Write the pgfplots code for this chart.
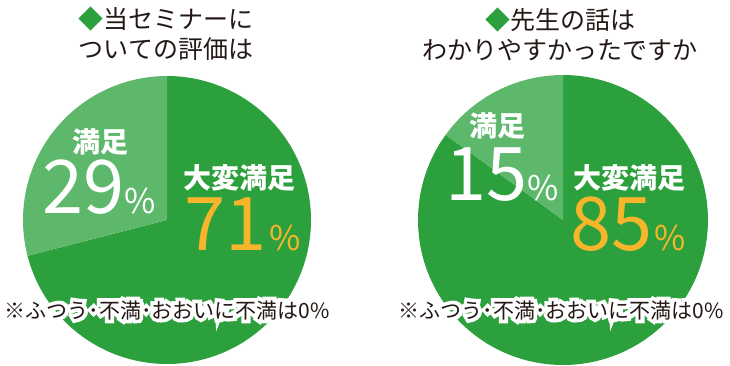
\documentclass[border=0pt]{standalone}
\usepackage{pgfplots}
\pgfplotsset{compat=1.18}
\usepackage{pgfplotstable}
\usepackage{fontspec}
\setmainfont{Noto Sans CJK JP}
\newfontfamily\halofont{Noto Sans CJK JP}[FakeBold=35]
\definecolor{dg}{HTML}{2CA03C}
\definecolor{lg}{HTML}{5DB86B}
\definecolor{og}{HTML}{F7B52C}
\definecolor{tx}{HTML}{231815}
\pgfplotstableread{
label value
top 71
sat 29
}\pieA
\pgfplotstableread{
label value
top 85
sat 15
}\pieB
\pgfplotstablegetelem{1}{value}\of\pieA
\pgfmathsetmacro{\aA}{90+3.6*\pgfplotsretval}
\pgfplotstablegetelem{1}{value}\of\pieB
\pgfmathsetmacro{\aB}{90+3.6*\pgfplotsretval}
\newcommand{\fn}{\fontsize{21}{24}\selectfont}
\newcommand{\notetext}{※ふつう･不満･おおいに不満は0\%}
\newcommand{\halotext}[1]{\rlap{\color{white}\halofont\fn #1}#1}
\newcommand{\bignum}{\fontsize{74}{74}\selectfont}
\newcommand{\pc}{\fontsize{34}{34}\selectfont\%}
\begin{document}
\begin{tikzpicture}
\begin{axis}[name=ax,width=730pt,height=365pt,scale only axis,
  xmin=0,xmax=730,ymin=0,ymax=365,y dir=reverse,hide axis,clip=false]
\addplot[draw=none,fill=dg,domain=\aA:450,samples=150] ({167+144*cos(x)},{220-144*sin(x)}) -- (axis cs:167,220) -- cycle;
\addplot[draw=none,fill=lg,domain=90:\aA,samples=80] ({167+144*cos(x)},{220-144*sin(x)}) -- (axis cs:167,220) -- cycle;
\addplot[draw=none,fill=dg,domain=\aB:450,samples=150] ({563+145*cos(x)},{220-145*sin(x)}) -- (axis cs:563,220) -- cycle;
\addplot[draw=none,fill=lg,domain=90:\aB,samples=60] ({563+145*cos(x)},{220-145*sin(x)}) -- (axis cs:563,220) -- cycle;
% titles
\node[align=center,text=tx,font=\fontsize{25}{30}\selectfont] at (axis cs:166,34) {{\color{dg}◆}当セミナーに\\ついての評価は};
\node[align=center,text=tx,font=\fontsize{25}{30}\selectfont] at (axis cs:560,34) {{\color{dg}◆}先生の話は\\わかりやすかったですか};
% left labels
\node[white,inner sep=0pt,font=\fontsize{28}{28}\selectfont\bfseries] at (axis cs:100,142) {満足};
\node[white,anchor=base west,inner sep=0pt,text height=50pt,text depth=0pt] at (axis cs:42,213) {\bignum 29\pc};
\node[white,inner sep=0pt,font=\fontsize{28}{28}\selectfont\bfseries] at (axis cs:239,178) {大変満足};
\node[og,anchor=base west,inner sep=0pt,text height=50pt,text depth=0pt] at (axis cs:184,250) {\bignum 71\hspace{3pt}\pc};
% right labels
\node[white,inner sep=0pt,font=\fontsize{28}{28}\selectfont\bfseries] at (axis cs:497,126) {満足};
\node[white,anchor=base west,inner sep=0pt,text height=50pt,text depth=0pt] at (axis cs:445,200) {\bignum 15\pc};
\node[white,inner sep=0pt,font=\fontsize{28}{28}\selectfont\bfseries] at (axis cs:629,178) {大変満足};
\node[og,anchor=base west,inner sep=0pt,text height=50pt,text depth=0pt] at (axis cs:570,250) {\bignum 85\hspace{2pt}\pc};
% notes
\node[tx,font=\fn,inner sep=0pt] at (axis cs:167,310) {\halotext{\notetext}};
\node[tx,font=\fn,inner sep=0pt] at (axis cs:561,310) {\halotext{\notetext}};
\end{axis}
\pgfresetboundingbox
\useasboundingbox (ax.south west) rectangle (ax.north east);
\end{tikzpicture}
\end{document}
